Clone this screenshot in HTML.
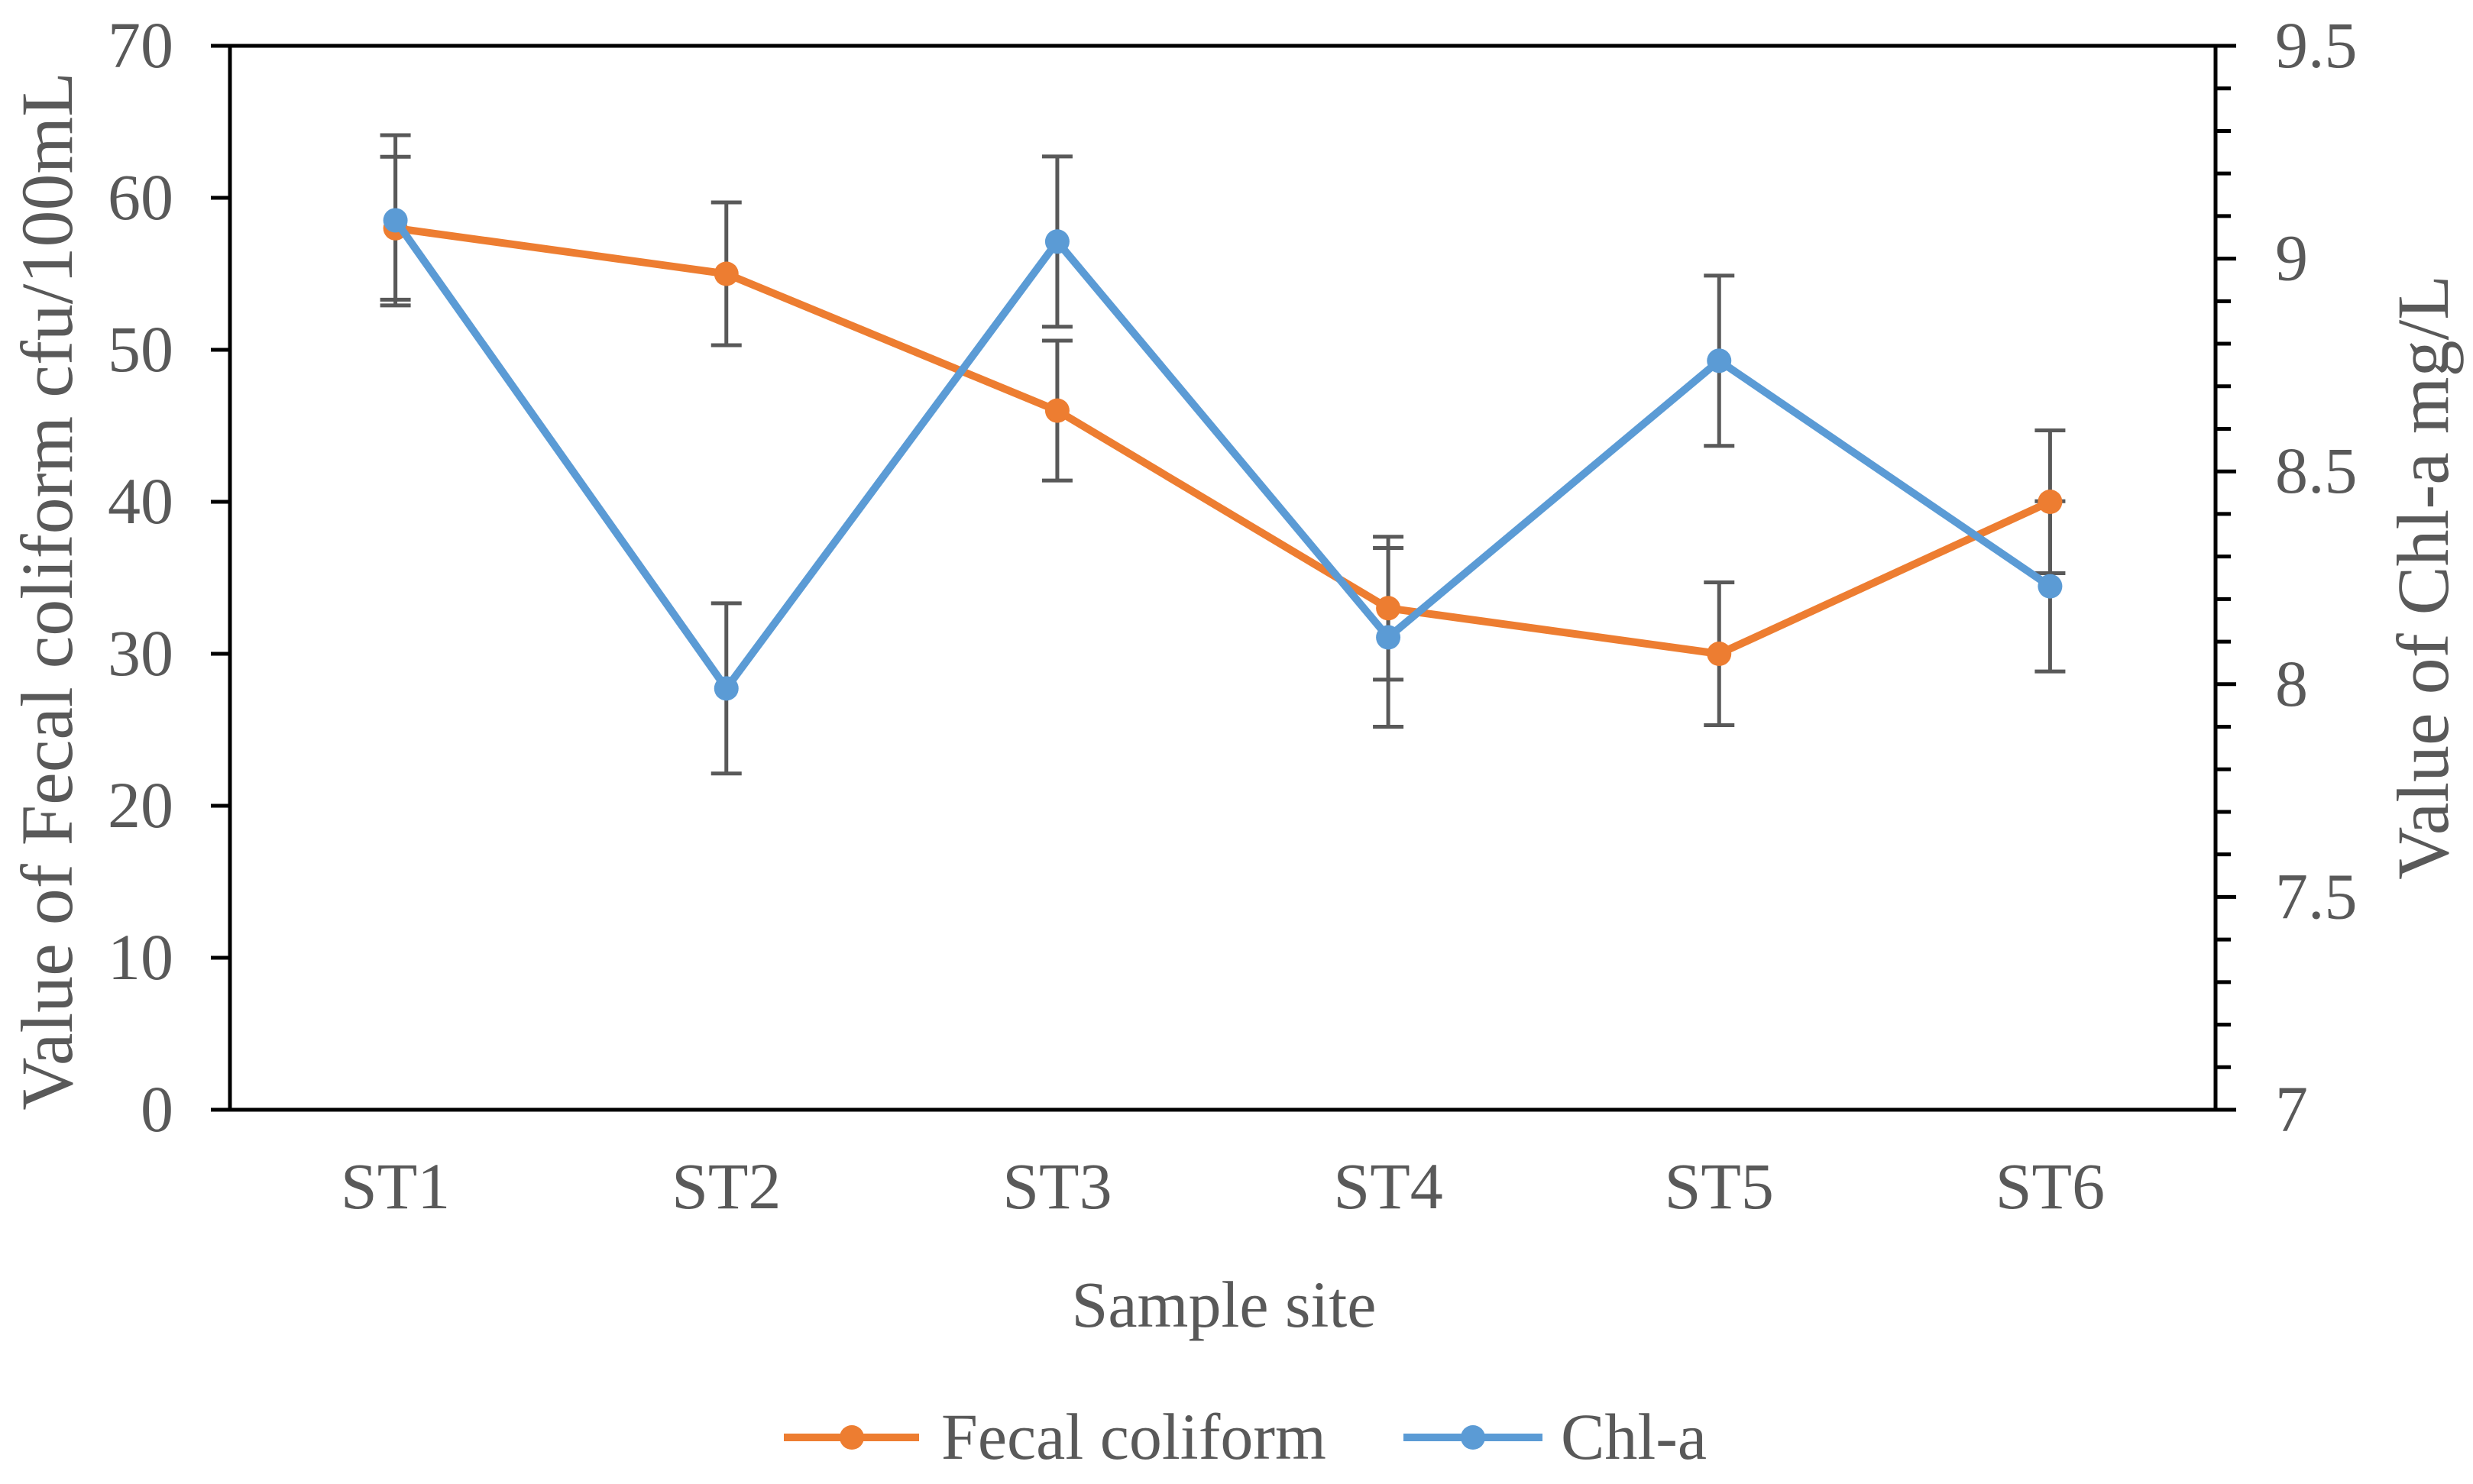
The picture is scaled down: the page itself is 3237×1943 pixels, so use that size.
<!DOCTYPE html>
<html><head><meta charset="utf-8"><style>
html,body{margin:0;padding:0;background:#fff;}
svg text{font-family:"Liberation Serif",serif;fill:#595959;}
</style></head><body>
<svg id="chart" width="3237" height="1938" xmlns="http://www.w3.org/2000/svg">
<g id="axes"></g>
<g id="errs"></g>
<g id="series"></g>
<text x="0" y="0" font-size="96" text-anchor="middle" transform="translate(94,774) rotate(-90)">Value of Fecal coliform cfu/100mL</text>
<text x="0" y="0" font-size="96" text-anchor="middle" transform="translate(3204,756) rotate(-90)">Value of Chl-a mg/L</text>
<text x="1602" y="1737" font-size="86" text-anchor="middle">Sample site</text>
<g>
<g>
<line x1="1026" y1="1882" x2="1203" y2="1882" stroke="#ED7D31" stroke-width="10"/>
<circle cx="1115" cy="1882" r="16" fill="#ED7D31"/>
<text x="1232" y="1910" font-size="86">Fecal coliform</text></g>
<g>
<line x1="1837" y1="1882" x2="2019" y2="1882" stroke="#5B9BD5" stroke-width="10"/>
<circle cx="1928" cy="1882" r="16" fill="#5B9BD5"/>
<text x="2043" y="1910" font-size="86">Chl-a</text></g>
</g>
</svg>
<script>
const categories = ["ST1","ST2","ST3","ST4","ST5","ST6"];
const fecalValues = [58, 55, 46, 33, 30, 40];
const fecalErrors = [4.7, 4.7, 4.6, 4.7, 4.7, 4.7];
const chlValues = [9.09, 7.99, 9.04, 8.11, 8.76, 8.23];
const chlErrors = [0.2, 0.2, 0.2, 0.21, 0.2, 0.2];
const leftTicks = [0,10,20,30,40,50,60,70];
const rightTicks = ["7","7.5","8","8.5","9","9.5"];

const L=301,R=2900,T=60,B=1453;
const NS="http://www.w3.org/2000/svg";
function yl(v){return B-(v-0)/(70-0)*(B-T);}
function yr(v){return B-(v-7)/(9.5-7)*(B-T);}
function xc(i){return L+(i+0.5)*(R-L)/categories.length;}
function mk(tag,attrs,parent){const e=document.createElementNS(NS,tag);for(const k in attrs)e.setAttribute(k,attrs[k]);parent.appendChild(e);return e;}
const axes=document.getElementById('axes'),errs=document.getElementById('errs'),series=document.getElementById('series');

let e;
e=mk('rect',{x:L,y:T,width:R-L,height:B-T,fill:'none',stroke:'#000','stroke-width':5},axes);


leftTicks.forEach(v=>{
  const y=yl(v);
  let t=mk('line',{x1:L-25,x2:L,y1:y,y2:y,stroke:'#000','stroke-width':5},axes);
  
  
  let tx=mk('text',{x:L-74,y:y+28,'font-size':86,'text-anchor':'end'},axes);
  tx.textContent=v;
  
  
});
for(let k=0;k<=25;k++){
  const v=7+k*0.1,y=yr(v),major=k%5===0;
  let t=mk('line',{x1:R,x2:R+(major?27:20),y1:y,y2:y,stroke:'#000','stroke-width':5},axes);
  
  
}
rightTicks.forEach(s=>{
  const y=yr(parseFloat(s));
  let tx=mk('text',{x:2978,y:y+28,'font-size':86},axes);
  tx.textContent=s;
  
  
});
categories.forEach((c,i)=>{
  let tx=mk('text',{x:xc(i),y:1582,'font-size':86,'text-anchor':'middle'},axes);
  tx.textContent=c;
  
  
});
function errbar(x,y1,y2){
  let g=mk('g',{stroke:'#595959','stroke-width':5},errs);
  
  
  mk('line',{x1:x,x2:x,y1:y1,y2:y2},g);
  mk('line',{x1:x-20,x2:x+20,y1:y1,y2:y1},g);
  mk('line',{x1:x-20,x2:x+20,y1:y2,y2:y2},g);
}
fecalValues.forEach((v,i)=>errbar(xc(i),yl(v+fecalErrors[i]),yl(v-fecalErrors[i])));
chlValues.forEach((v,i)=>errbar(xc(i),yr(v+chlErrors[i]),yr(v-chlErrors[i])));
function drawSeries(vals,yf,color,name){
  let p=mk('polyline',{points:vals.map((v,i)=>xc(i)+','+yf(v)).join(' '),fill:'none',stroke:color,'stroke-width':10,'stroke-linejoin':'round'},series);
  
  
  vals.forEach((v,i)=>{
    let c=mk('circle',{cx:xc(i),cy:yf(v),r:16,fill:color},series);
    
    
  });
}
drawSeries(fecalValues,yl,'#ED7D31','fecal-coliform');
drawSeries(chlValues,yr,'#5B9BD5','chl-a');
</script>
</body></html>
